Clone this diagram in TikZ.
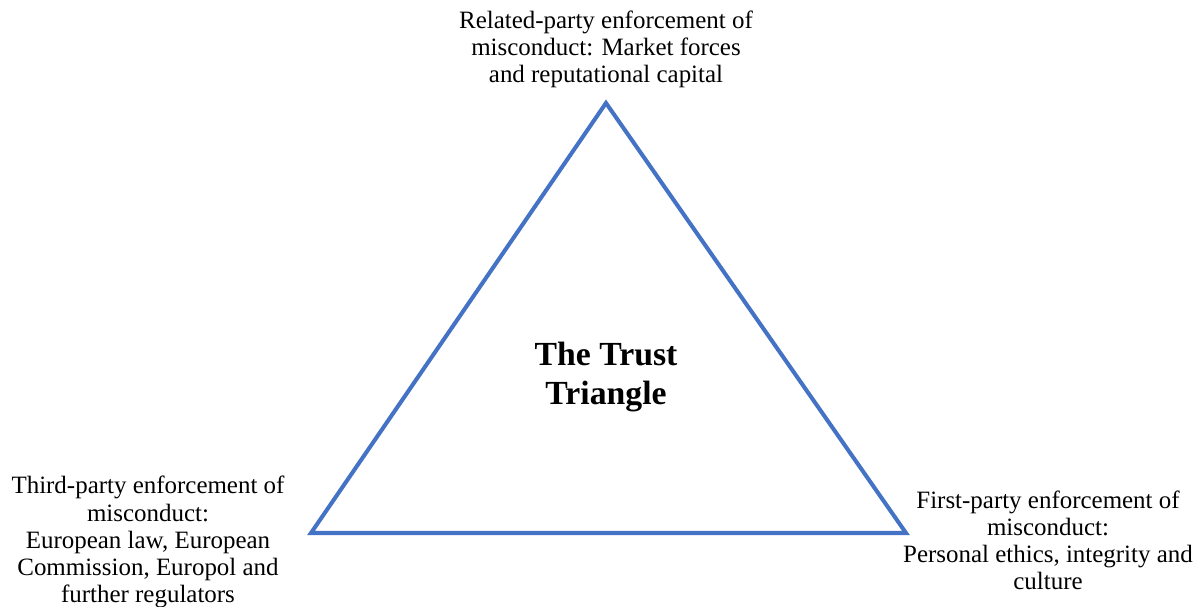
\documentclass[tikz,border=0pt]{standalone}
\usepackage{fontspec}
\setmainfont{Liberation Serif}
\definecolor{trustblue}{RGB}{68,114,196}
\tikzset{
  edge/.style={draw=trustblue, line width=2.3pt, line join=miter},
  party/.style={align=center, font=\fontsize{14.2}{15.4}\selectfont},
  title/.style={align=center, font=\fontsize{19.2}{22.5}\selectfont\bfseries}
}
\begin{document}
\begin{tikzpicture}[x=0.02cm, y=-0.02cm]
        \useasboundingbox (0,0) rectangle (1200,606);
        % corners
        \coordinate (top) at (606,103);
        \coordinate (left) at (311,533);
        \coordinate (right) at (906,533);
        \draw[edge] (top) -- (left) -- (right) -- cycle;
        
        % labels
        \node[party] (related) at (606,49) {Related-party enforcement of\\misconduct: Market forces\\and reputational capital};
        \node[party] (third) at (148,542) {Third-party enforcement of\\misconduct:\\European law, European\\Commission, Europol and\\further regulators};
        \node[party] (first) at (1048,540) {First-party enforcement of\\misconduct:\\Personal ethics, integrity and\\culture};
        
        % centre
        \node[title] (trust) at (606,377) {The Trust\\Triangle};
    \end{tikzpicture}
\end{document}
